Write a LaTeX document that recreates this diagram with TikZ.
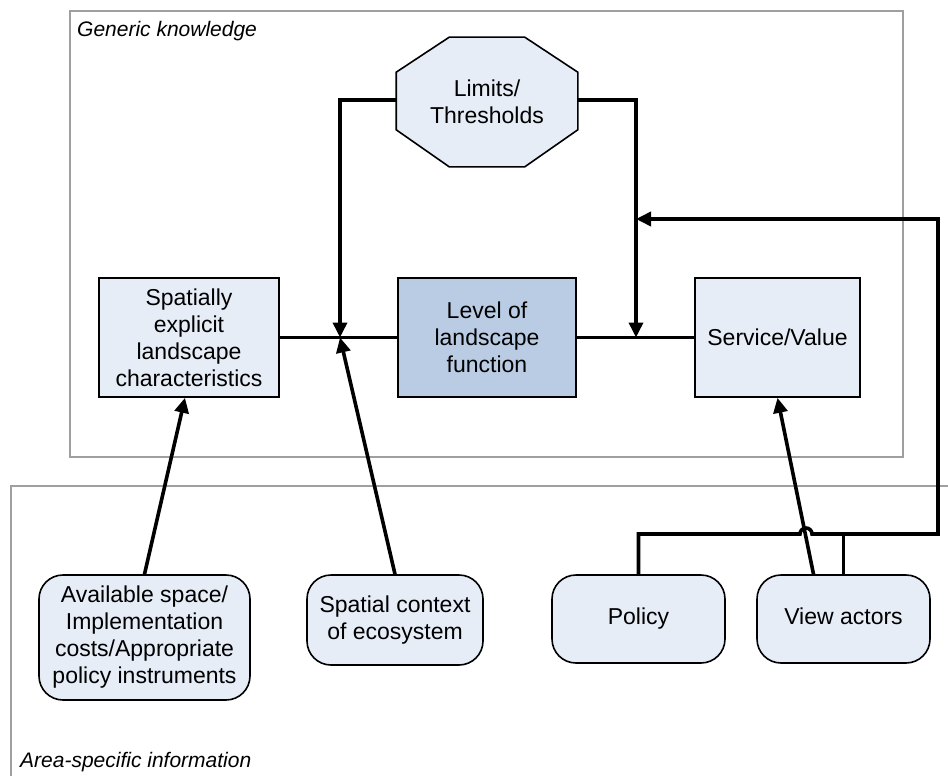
\documentclass[tikz,border=0pt]{standalone}
\usepackage{fontspec}
\setmainfont{Liberation Sans}
\usetikzlibrary{arrows.meta}
\definecolor{paleblue}{RGB}{230,237,247}
\definecolor{midblue}{RGB}{185,204,228}
\pgfdeclarelayer{background}
\pgfsetlayers{background,main}
\tikzset{
    box/.style={draw,line width=1.6pt,fill=paleblue,align=center,
        font=\fontsize{23}{27}\selectfont,inner sep=2pt},
    roundbox/.style={box,rounded corners=24pt},
    link/.style={line width=3.6pt},
    flow/.style={link,-{Triangle[length=15pt,width=14pt]}},
    frame/.style={draw=gray!75,line width=1.4pt},
    caption/.style={font=\itshape\fontsize{21}{25}\selectfont,anchor=west,inner sep=0pt},
}

\begin{document}
\begin{tikzpicture}[x=1pt,y=-1pt]
    \useasboundingbox (0,0) rectangle (948,776);
    \draw[frame] (70,11) rectangle (903,457);
    \draw[frame] (970,486) -- (11,486) -- (11,800);
    \node[caption] (generic) at (77,31) {Generic knowledge};
    \node[caption] (area) at (20,762) {Area-specific information};

    \node[box,draw=none,fill=none,minimum width=180pt,minimum height=128pt] (limits) at (487,102)
        {Limits/\\Thresholds};
    \begin{pgfonlayer}{background}
        \draw[box] ([xshift=53pt]limits.north west) -- ([xshift=-53pt]limits.north east)
            -- ([yshift=-35pt]limits.north east) -- ([yshift=37pt]limits.south east)
            -- ([xshift=-53pt]limits.south east) -- ([xshift=53pt]limits.south west)
            -- ([yshift=37pt]limits.south west) -- ([yshift=-35pt]limits.north west) -- cycle;
    \end{pgfonlayer}
    \node[box,minimum width=180pt,minimum height=119pt] (spatial) at (189,337.5)
        {Spatially\\explicit\\landscape\\characteristics};
    \node[box,fill=midblue,minimum width=178pt,minimum height=119pt] (level) at (487,337.5)
        {Level of\\landscape\\function};
    \node[box,minimum width=165pt,minimum height=119pt] (service) at (777.5,337.5) {Service/Value};

    \node[roundbox,minimum width=211pt,minimum height=125pt] (avail) at (144.5,637.5)
        {Available space/\\Implementation\\costs/Appropriate\\policy instruments};
    \node[roundbox,minimum width=176pt,minimum height=90pt] (context) at (395,620)
        {Spatial context\\of ecosystem};
    \node[roundbox,text depth=5pt,minimum width=173pt,minimum height=88pt] (policy) at (638.5,619) {Policy};
    \node[roundbox,text depth=5pt,minimum width=173pt,minimum height=88pt] (actors) at (843.5,619) {View actors};

    \coordinate (jl) at (340,337.5);
    \coordinate (jr) at (636,337.5);
    \coordinate (fb) at (636,219);
    \coordinate (bus) at (938,534);
    \coordinate (hop) at (806,534);

    \draw[link] (spatial) -- (level);
    \draw[link] (level) -- (service);
    \draw[flow] ([yshift=2pt]limits.west) -| (jl);
    \draw[flow] ([yshift=2pt]limits.east) -| (jr);
    \draw[flow] (avail.north) -- ([xshift=-4pt]spatial.south);
    \draw[flow] (context.north) -- (jl);
    \draw[flow] ([xshift=-30pt]actors.north) -- (service.south);
    \draw[flow] (policy.north) |- ([xshift=-6pt]hop) arc[start angle=180,end angle=0,radius=6pt]
        -- (bus) |- (fb);
    \draw[link] (actors.north) -- (actors.north |- bus);
\end{tikzpicture}
\end{document}
